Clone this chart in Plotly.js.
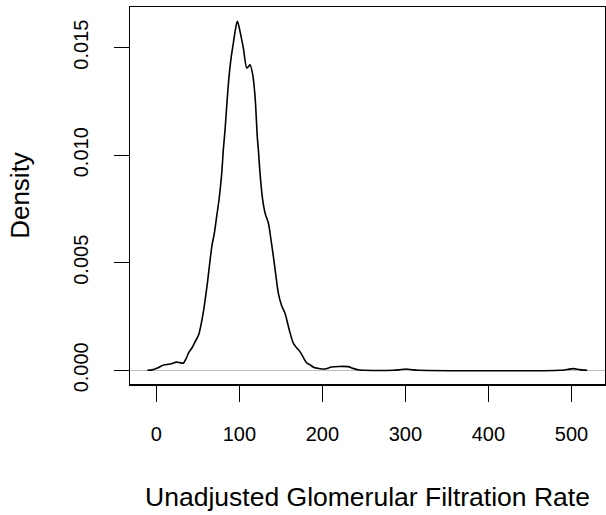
<!DOCTYPE html>
<html>
<head>
<meta charset="utf-8">
<script src="https://cdn.plot.ly/plotly-3.0.1.min.js"></script>
<style>
html,body{margin:0;padding:0;background:#fff;}
#chart{width:606px;height:515px;}
</style>
</head>
<body>
<div id="chart"></div>
<script>
// Kernel density estimate of unadjusted GFR
var gfr = [-10.8, -5, 0.5, 5, 9, 15, 20, 24, 28, 32.5, 36, 39, 43, 47, 51, 54, 57, 61.5, 65, 67, 70, 72.5, 75.5, 78.8, 80.7, 82.8, 85, 87.6, 90, 92.8, 95.5, 97.6, 99.5, 100.8, 104.8, 108.9, 111, 112.9, 116.1, 118.9, 121.7, 122.9, 124.9, 127.9, 131, 135, 138, 141, 144, 147, 151, 155, 160, 165, 169, 173, 177, 181, 185.2, 190, 195, 203, 211, 220, 231, 237, 245, 250, 285, 292, 300.8, 309, 316, 487, 495, 502.4, 510, 519];
var density = [0, 0.00002, 0.00009, 0.00018, 0.00025, 0.00028, 0.00033, 0.00038, 0.00036, 0.00033, 0.00055, 0.00082, 0.00105, 0.00135, 0.00165, 0.00215, 0.0028, 0.00405, 0.0052, 0.0058, 0.0064, 0.0071, 0.00793, 0.00917, 0.01026, 0.01119, 0.0124, 0.01367, 0.0145, 0.01522, 0.0159, 0.01623, 0.016, 0.01576, 0.01499, 0.01406, 0.01412, 0.01421, 0.01375, 0.01274, 0.0108, 0.01026, 0.00917, 0.00798, 0.00731, 0.00684, 0.0061, 0.00529, 0.0044, 0.00358, 0.003, 0.00265, 0.0019, 0.00126, 0.00105, 0.00087, 0.0006, 0.00035, 0.00025, 0.00013, 0.00009, 0.00006, 0.00015, 0.00018, 0.00017, 0.00009, 0.00001, 0, 0, 0.00002, 0.00006, 0.00002, 0, 0, 0.00004, 0.00008, 0.00003, 0];
var xTicks = [0, 100, 200, 300, 400, 500];
var yTicks = [0, 0.005, 0.010, 0.015];
var yTickLabels = ["0.000", "0.005", "0.010", "0.015"];
var xTitle = "Unadjusted Glomerular Filtration Rate";
var yTitle = "Density";

var font = "Liberation Sans, Arial, Helvetica, sans-serif";

var trace = {
  x: gfr,
  y: density,
  type: "scatter",
  mode: "lines",
  line: {color: "#000000", width: 1.6, shape: "spline", smoothing: 0.8},
  hoverinfo: "x+y"
};

var layout = {
  width: 606,
  height: 515,
  margin: {l: 130, r: 1, t: 7, b: 131, pad: 0},
  paper_bgcolor: "#ffffff",
  plot_bgcolor: "#ffffff",
  showlegend: false,
  font: {family: font, color: "#000000", size: 20},
  xaxis: {
    range: [-31.7, 540.4],
    tickmode: "array",
    tickvals: xTicks,
    ticktext: xTicks.map(String),
    ticks: "outside",
    ticklen: 16,
    tickwidth: 1.3,
    tickcolor: "#000000",
    showgrid: false,
    zeroline: false,
    showline: true,
    mirror: true,
    linecolor: "#000000",
    linewidth: 1.5,
    tickfont: {family: font, size: 20, color: "#000000"},
    ticklabelstandoff: 15,
    title: {text: xTitle, font: {family: font, size: 26.5, color: "#000000"}, standoff: 44}
  },
  yaxis: {
    range: [-0.000637, 0.016892],
    tickmode: "array",
    tickvals: yTicks,
    ticktext: yTickLabels,
    tickangle: -90,
    ticks: "outside",
    ticklen: 15,
    tickwidth: 1.3,
    tickcolor: "#000000",
    showgrid: false,
    zeroline: true,
    zerolinecolor: "#bebebe",
    zerolinewidth: 1.2,
    showline: true,
    mirror: true,
    linecolor: "#000000",
    linewidth: 1.5,
    tickfont: {family: font, size: 20, color: "#000000"},
    ticklabelstandoff: 18,
    title: {text: yTitle, font: {family: font, size: 26, color: "#000000"}, standoff: 32}
  }
};

Plotly.newPlot("chart", [trace], layout, {displayModeBar: false, staticPlot: true});
</script>
</body>
</html>
